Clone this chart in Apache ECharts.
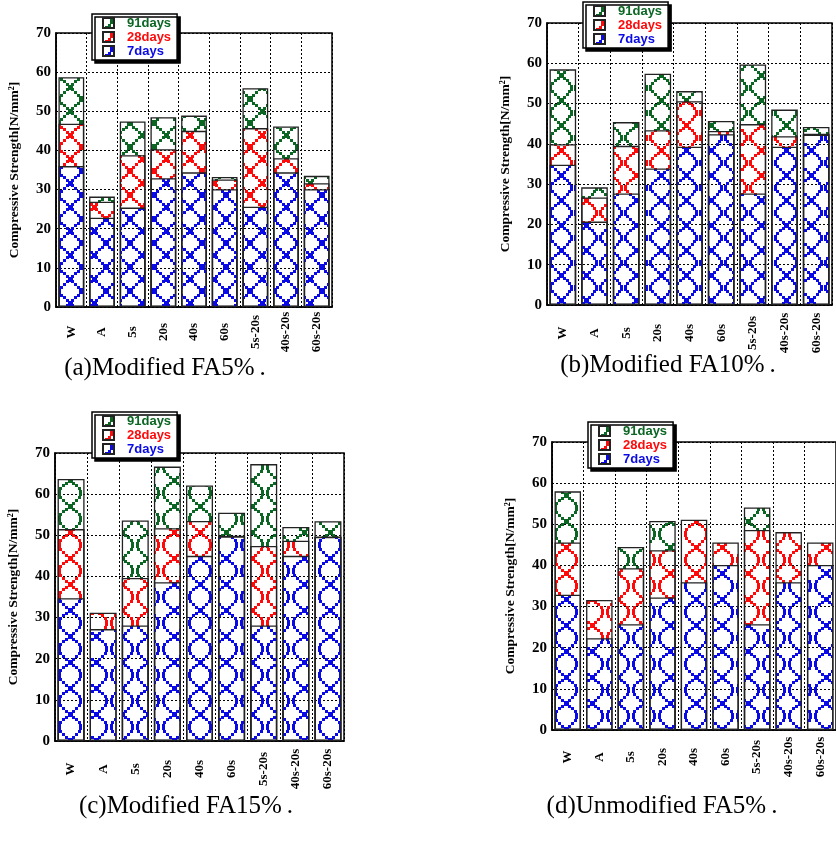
<!DOCTYPE html>
<html>
<head>
<meta charset="utf-8">
<script src="https://cdn.jsdelivr.net/npm/echarts@6/dist/echarts.min.js"></script>
<style>html,body{margin:0;padding:0;background:#fff;}#c{width:836px;height:852px;}</style>
</head>
<body>
<div id="c"></div>
<script>
const categories = ['W','A','5s','20s','40s','60s','5s-20s','40s-20s','60s-20s'];
const yTicks = [0,10,20,30,40,50,60,70];
const seriesNames = ['91days','28days','7days'];

// (a) Modified FA5%
const a7  = [36.0, 22.8, 25.4, 32.9, 34.4, 30.1, 25.6, 34.4, 30.1];
const a28 = [46.8, 26.9, 38.8, 40.3, 45.0, 32.6, 45.7, 38.0, 31.6];
const a91 = [58.7, 28.2, 47.4, 48.5, 48.9, 33.2, 55.9, 46.1, 33.5];
// (b) Modified FA10%
const b7  = [34.8, 20.7, 27.7, 33.9, 39.3, 42.4, 27.7, 39.3, 42.3];
const b28 = [39.9, 26.7, 39.5, 43.4, 50.6, 43.2, 44.9, 41.9, 42.5];
const b91 = [58.5, 29.2, 45.4, 57.4, 53.1, 45.7, 59.7, 48.5, 44.2];
// (c) Modified FA15%
const c7  = [34.7, 27.2, 28.1, 38.6, 45.0, 49.7, 28.1, 45.0, 49.6];
const c28 = [51.5, 31.2, 39.6, 51.7, 53.5, 49.9, 47.4, 48.7, 49.7];
const c91 = [63.7, null, 53.6, 66.7, 62.1, 55.5, 67.3, 52.0, 53.4];
// (d) Unmodified FA5%
const d7  = [32.9, 22.3, 25.7, 32.2, 35.9, 40.1, 25.7, 35.9, 40.1];
const d28 = [45.6, 31.6, 39.3, 43.7, 51.1, 45.6, 48.6, 48.1, 45.6];
const d91 = [58.0, null, 44.5, 50.8, null, null, 54.1, null, null];

const captions = ['(a)Modified FA5%\u2009.','(b)Modified FA10%\u2009.','(c)Modified FA15%\u2009.','(d)Unmodified FA5%\u2009.'];
const yTitle = 'Compressive Strength[N/mm\u00B2]';

const colors = {'91days':'#0b6623','28days':'#ff0a0a','7days':'#0a0ae6'};

// ring-of-squares fill pattern (X where rings meet vertically)
const ringPts = [[0.38,0.12],[0.26,0.23],[0.15,0.34],[0.08,0.45],[0.08,0.56],[0.15,0.67],[0.26,0.78],[0.38,0.89]];
function makePattern(color, P, xX, yX){
  const cv = document.createElement('canvas');
  cv.width = P; cv.height = P;
  const g = cv.getContext('2d');
  g.fillStyle = color;
  const sx = ((xX - P/2) % P + P) % P, sy = ((yX % P) + P) % P;
  function sq(x, y, s){
    for (let dx=-1; dx<=1; dx++) for (let dy=-1; dy<=1; dy++) {
      g.fillRect(Math.round(x + sx - s/2 + dx*P), Math.round(y + sy - s/2 + dy*P), s, s);
    }
  }
  sq(P/2, 0, 5);
  ringPts.forEach(([u,v]) => { sq(u*P, v*P, 3); sq((1-u)*P, v*P, 3); });
  return {image: cv, repeat: 'repeat'};
}

const panels = [
  {grid:{left:56, top:33, width:276, height:274}, d:[a91,a28,a7], legend:{left:92, top:14}, labelMargin:25, cap:[165,368], pat:[24,70,183]},
  {grid:{left:547, top:23, width:285, height:282}, d:[b91,b28,b7], legend:{left:583, top:2}, labelMargin:28, cap:[668,365], pat:[25,561,200]},
  {grid:{left:55, top:453, width:289, height:288}, d:[c91,c28,c7], legend:{left:92, top:412}, labelMargin:28, cap:[186,806], pat:[26,70,610]},
  {grid:{left:552, top:442, width:290, height:288}, d:[d91,d28,d7], legend:{left:588, top:422}, labelMargin:27, cap:[662,806], pat:[26,566,625]}
];

const serif = '"Liberation Serif","Times New Roman",serif';
const option = {
  animation:false,
  backgroundColor:'#fff',
  grid:[], xAxis:[], yAxis:[], series:[], legend:[], graphic:[]
};

panels.forEach((p, i) => {
  option.grid.push(Object.assign({show:true, borderColor:'#000', borderWidth:1.5, backgroundColor:'transparent'}, p.grid));
  option.xAxis.push({
    type:'category', gridIndex:i, data:categories,
    axisLine:{show:true, lineStyle:{color:'#000', width:1.5}},
    axisTick:{show:false},
    splitLine:{show:true, interval:0, lineStyle:{color:'#000', type:[2,2], width:1}},
    axisLabel:{rotate:90, interval:0, margin:p.labelMargin, align:'center', verticalAlign:'middle',
      fontFamily:serif, fontWeight:'bold', fontSize:13, color:'#000'}
  });
  option.yAxis.push({
    type:'value', gridIndex:i, min:yTicks[0], max:yTicks[yTicks.length-1], interval:10,
    name:yTitle, nameLocation:'middle', nameGap:34, nameRotate:90,
    nameTextStyle:{fontFamily:serif, fontWeight:'bold', fontSize:13.5, color:'#000'},
    axisLine:{show:true, lineStyle:{color:'#000', width:1.5}},
    axisTick:{show:false},
    splitLine:{show:true, lineStyle:{color:'#000', type:[2,2], width:1}},
    axisLabel:{fontFamily:serif, fontWeight:'bold', fontSize:15, color:'#000', margin:5}
  });
  seriesNames.forEach((n, k) => {
    option.series.push({
      name:n, type:'bar', xAxisIndex:i, yAxisIndex:i,
      data:p.d[k], barWidth:'84%', barGap:'-100%', z:2+k,
      itemStyle:{color:makePattern(colors[n], p.pat[0], p.pat[1], p.pat[2]), borderColor:'#222', borderWidth:1.3}
    });
  });
  option.legend.push({
    left:p.legend.left, top:p.legend.top, orient:'vertical', itemGap:0,
    itemWidth:11, itemHeight:10, padding:[2,6,2,10],
    backgroundColor:'#fff', borderColor:'#000', borderWidth:1.5,
    shadowColor:'#000', shadowBlur:0, shadowOffsetX:3, shadowOffsetY:3,
    selectedMode:false, icon:'rect',
    data: seriesNames.map(n => ({name:n, textStyle:{color:colors[n]}})),
    textStyle:{fontFamily:'"Liberation Sans",Arial,sans-serif', fontWeight:'bold', fontSize:13, padding:[0,0,0,8], lineHeight:14}
  });
});

option.graphic = panels.map((p, i) => ({
  type:'text', x:p.cap[0], y:p.cap[1],
  style:{text:captions[i], fontFamily:serif, fontSize:25, fill:'#000', align:'center', verticalAlign:'middle'}
}));

const chart = echarts.init(document.getElementById('c'), null, {renderer:'canvas'});
chart.setOption(option);
</script>
</body>
</html>
